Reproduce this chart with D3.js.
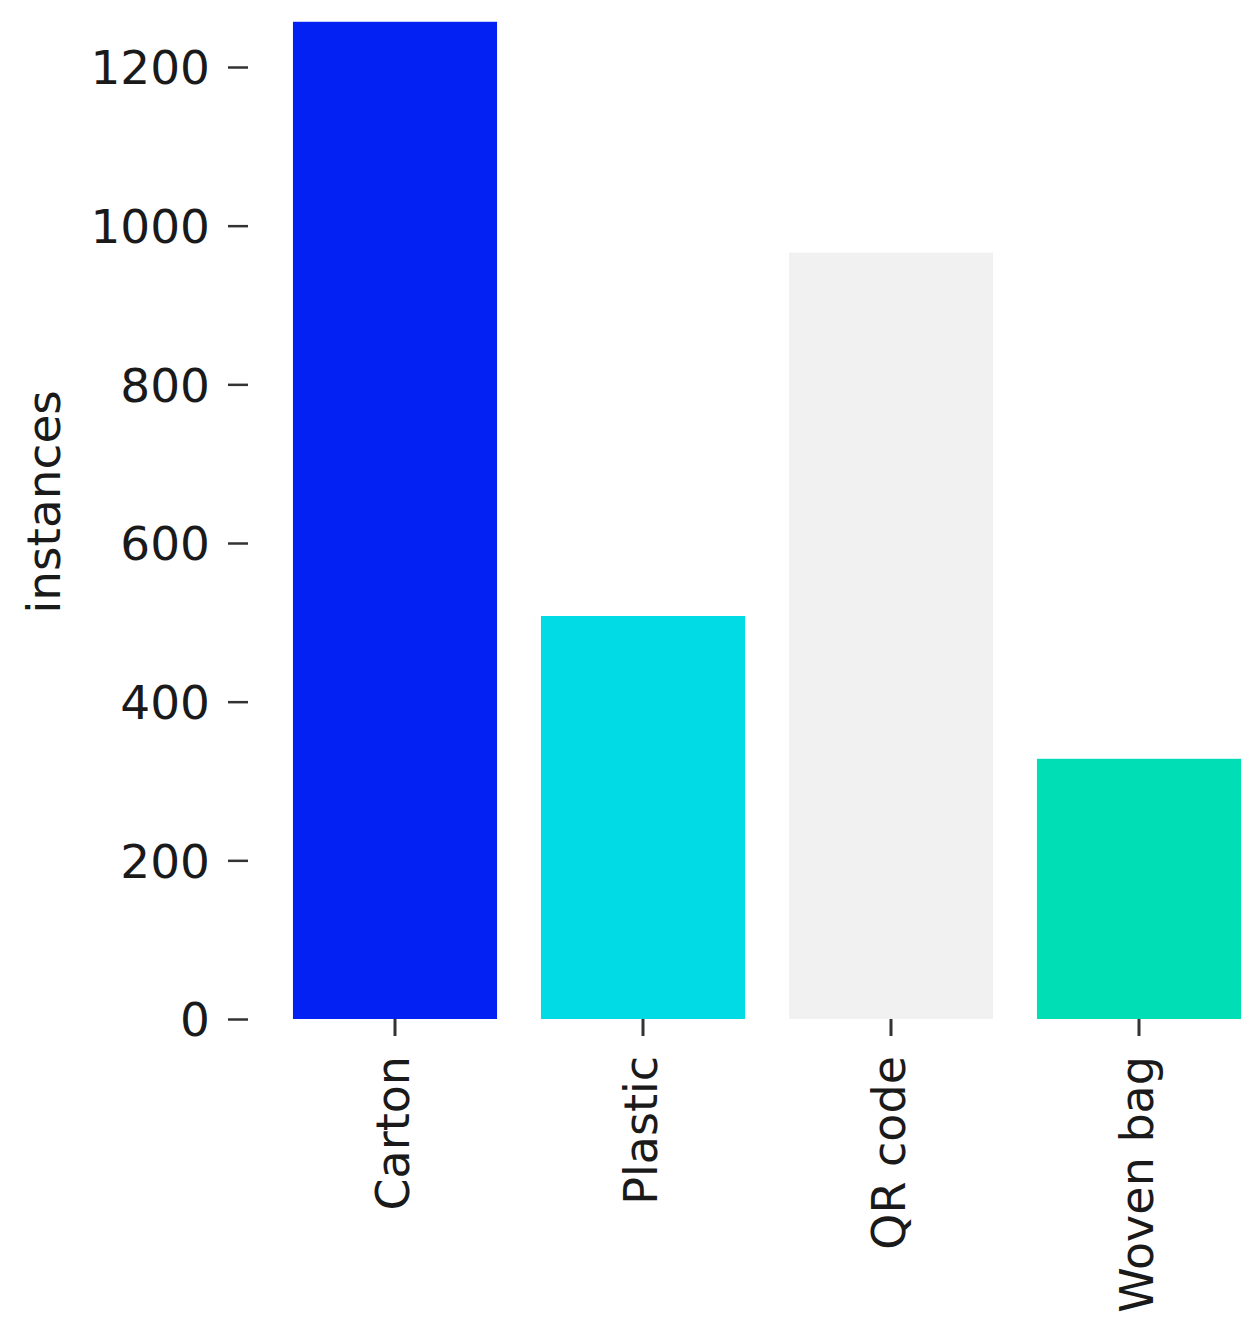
<!DOCTYPE html>
<html>
<head>
<meta charset="utf-8">
<script src="https://cdn.jsdelivr.net/npm/d3@7"></script>
<style>
  body { margin: 0; background: #fff; }
  svg text { font-family: "DejaVu Sans", sans-serif; }
</style>
</head>
<body>
<svg id="chart" width="1260" height="1331"></svg>
<script>
// data
const categories = ['Carton', 'Plastic', 'QR code', 'Woven bag'];
const instances = [1257, 508, 966, 328];
const barColors = ['#0321f2', '#00dbe6', '#f1f1f1', '#00deb5'];
const yTicks = [0, 200, 400, 600, 800, 1000, 1200];

const data = categories.map((c, i) => ({ name: c, value: instances[i], color: barColors[i] }));

const svg = d3.select('#chart');

// scales
const x = d3.scaleBand()
  .domain(categories)
  .range([271, 1263])
  .paddingInner(0.177)
  .paddingOuter(0.0885);

const y = d3.scaleLinear()
  .domain([0, 1200])
  .range([1019, 67]);

// bars
svg.append('g')
  .selectAll('rect')
  .data(data)
  .join('rect')
  .attr('x', d => x(d.name))
  .attr('y', d => y(d.value))
  .attr('width', x.bandwidth())
  .attr('height', d => y(0) - y(d.value))
  .attr('fill', d => d.color);

// y axis
const yAxis = svg.append('g')
  .attr('transform', 'translate(248,0)')
  .call(d3.axisLeft(y).tickValues(yTicks).tickFormat(d3.format('d'))
    .tickSize(20).tickSizeOuter(0).tickPadding(18));
yAxis.select('.domain').remove();
yAxis.selectAll('.tick line').attr('stroke', '#333').attr('stroke-width', 2.5);
yAxis.selectAll('.tick text')
  .attr('font-size', 47)
  .attr('fill', '#1a1a1a')
  .attr('dy', '0.36em');

// x axis
const xAxis = svg.append('g')
  .attr('transform', `translate(0,${y(0)})`)
  .call(d3.axisBottom(x).tickSize(17).tickSizeOuter(0).tickPadding(0));
xAxis.select('.domain').remove();
xAxis.selectAll('.tick line').attr('stroke', '#333').attr('stroke-width', 3);
xAxis.selectAll('.tick text')
  .attr('font-size', 46)
  .attr('fill', '#1a1a1a')
  .attr('text-anchor', 'end')
  .attr('transform', 'translate(0,37) rotate(-90)')
  .attr('x', 0)
  .attr('y', 0)
  .attr('dy', '0.3em');

// y label
svg.append('text')
  .attr('transform', 'translate(60,502) rotate(-90)')
  .attr('text-anchor', 'middle')
  .attr('font-size', 47)
  .attr('fill', '#1a1a1a')
  .text('instances');
</script>
</body>
</html>
